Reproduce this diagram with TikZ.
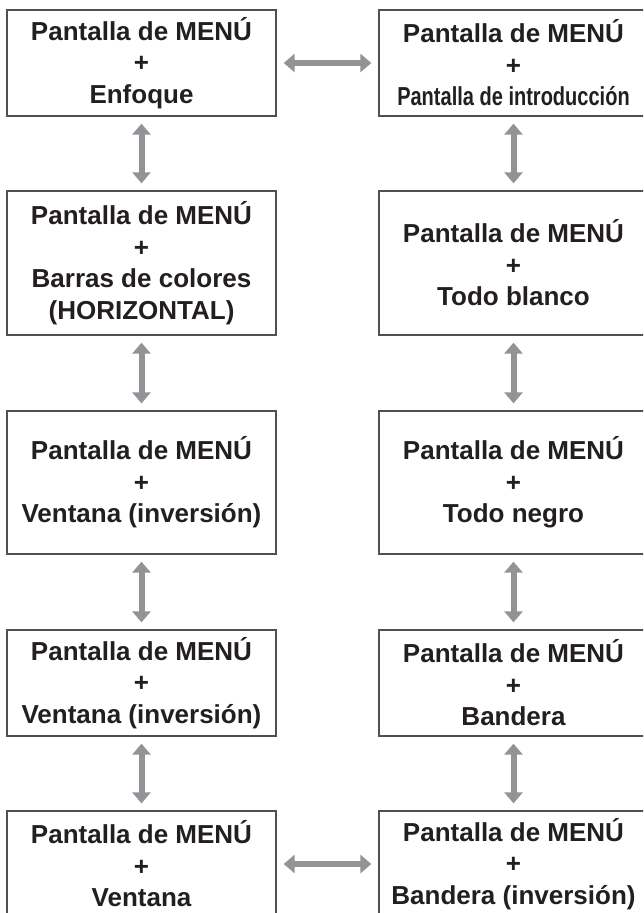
\documentclass[tikz,border=0pt]{standalone}
\usepackage{fontspec}
\setmainfont{Liberation Sans}
\usetikzlibrary{arrows.meta}
\definecolor{boxline}{RGB}{80,80,80}
\definecolor{arrowgray}{RGB}{146,147,150}
\definecolor{txt}{RGB}{35,31,32}
\tikzset{
  screenbox/.style={draw=boxline, line width=1.3pt, fill=white, minimum width=269pt, inner sep=0pt, align=center, text=txt,
    font=\fontsize{26}{31.5}\selectfont\bfseries},
  dblarrow/.style={draw=arrowgray, line width=6pt,
    {Triangle[width=18pt,length=11pt]}-{Triangle[width=18pt,length=11pt]},
    shorten <=7pt, shorten >=7pt}
}
\begin{document}
\begin{tikzpicture}[x=1pt,y=-1pt]
\path[use as bounding box] (0,0) rectangle (643,913);
\clip (0,0) rectangle (643,913);
\fill[white] (0,0) rectangle (643,913);
% left column
\node[screenbox, minimum height=106pt] (L1) at (141.5,63) {Pantalla de MENÚ\\+\\Enfoque};
\node[screenbox, minimum height=144pt] (L2) at (141.5,263) {Pantalla de MENÚ\\+\\Barras de colores\\(HORIZONTAL)};
\node[screenbox, minimum height=143pt] (L3) at (141.5,482.5) {Pantalla de MENÚ\\+\\Ventana (inversión)};
\node[screenbox, minimum height=106pt] (L4) at (141.5,683) {Pantalla de MENÚ\\+\\Ventana (inversión)};
\node[screenbox, minimum height=106pt] (L5) at (141.5,864) {Pantalla de MENÚ\\+\\Ventana};
% right column
\node[screenbox, minimum height=106pt] (R1) at (513.5,63) {Pantalla de MENÚ\\+\\{\fontsize{26}{31.5}\selectfont\scalebox{0.77}[1]{Pantalla de introducción}}};
\node[screenbox, minimum height=144pt] (R2) at (513.5,263) {Pantalla de MENÚ\\+\\Todo blanco};
\node[screenbox, minimum height=143pt] (R3) at (513.5,482.5) {Pantalla de MENÚ\\+\\Todo negro};
\node[screenbox, minimum height=106pt] (R4) at (513.5,683) {Pantalla de MENÚ\\+\\Bandera};
\node[screenbox, minimum height=106pt] (R5) at (513.5,864) {Pantalla de MENÚ\\+\\Bandera (inversión)};
% arrows
\draw[dblarrow] (L1.east) -- (R1.west);
\draw[dblarrow] (L5.east) -- (R5.west);
\draw[dblarrow] (L1.south) -- (L2.north);
\draw[dblarrow] (L2.south) -- (L3.north);
\draw[dblarrow] (L3.south) -- (L4.north);
\draw[dblarrow] (L4.south) -- (L5.north);
\draw[dblarrow] (R1.south) -- (R2.north);
\draw[dblarrow] (R2.south) -- (R3.north);
\draw[dblarrow] (R3.south) -- (R4.north);
\draw[dblarrow] (R4.south) -- (R5.north);
\end{tikzpicture}
\end{document}
